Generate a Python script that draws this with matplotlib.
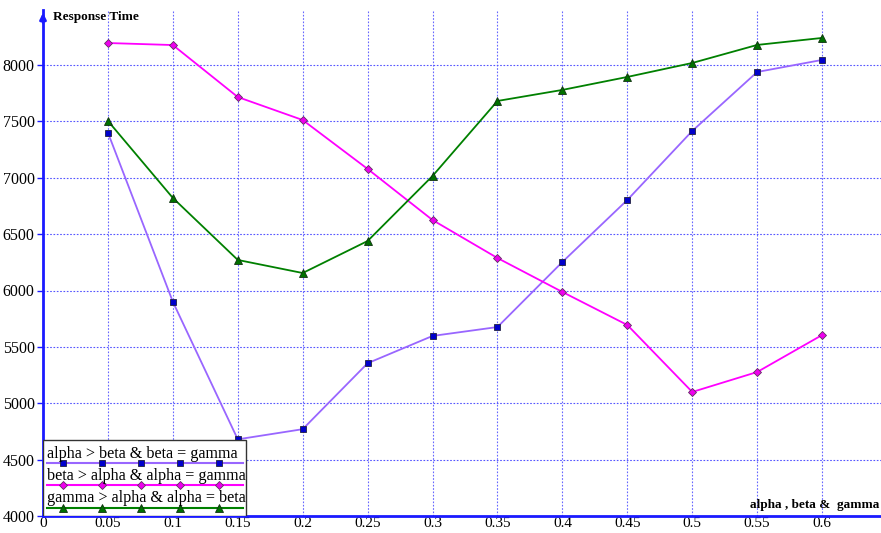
import matplotlib.pyplot as plt
from matplotlib import rcParams
from matplotlib.lines import Line2D

rcParams["font.family"] = "Liberation Serif"
rcParams["font.size"] = 11

x_vals = [0.05, 0.1, 0.15, 0.2, 0.25, 0.3, 0.35, 0.4, 0.45, 0.5, 0.55, 0.6]
beta_gamma = [7400, 5900, 4680, 4770, 5355, 5597, 5676, 6253, 6803, 7415, 7938, 8045]
alpha_gamma = [8195, 8177, 7716, 7512, 7078, 6625, 6288, 5987, 5694, 5100, 5277, 5605]
alpha_beta = [7504, 6821, 6271, 6155, 6439, 7016, 7681, 7779, 7894, 8018, 8178, 8240]

labels = [
    "alpha > beta & beta = gamma",
    "beta > alpha & alpha = gamma",
    "gamma > alpha & alpha = beta",
]
x_ticks = [0, 0.05, 0.1, 0.15, 0.2, 0.25, 0.3, 0.35, 0.4, 0.45, 0.5, 0.55, 0.6]
y_ticks = [4000, 4500, 5000, 5500, 6000, 6500, 7000, 7500, 8000]

styles = [
    dict(color="#9966ff", marker="s", mfc="#0000cc", mec="#202040", ms=5),
    dict(color="#ff00ff", marker="D", mfc="#ee00ee", mec="#603060", ms=4.5),
    dict(color="#008000", marker="^", mfc="#007000", mec="#103010", ms=6),
]

fig = plt.figure(figsize=(8.81, 5.33), dpi=100)
ax = fig.add_axes([43 / 881, 17 / 533, 838 / 881, 506 / 533])
ax.set_xlim(0, 838 / 1298.5)
ax.set_ylim(4000, 4000 + 506 / 0.11275)

for xv in x_ticks[1:]:
    ax.axvline(xv, color="#6666ff", lw=0.8, ls=(0, (1.5, 1.5)), zorder=0)
for yv in y_ticks[1:]:
    ax.axhline(yv, color="#5555ff", lw=0.8, ls=(0, (1.5, 1.5)), zorder=0)

for ys, st in zip([beta_gamma, alpha_gamma, alpha_beta], styles):
    ax.plot(x_vals, ys, lw=1.3, mew=0.6, **st)

for side in ["top", "right"]:
    ax.spines[side].set_visible(False)
for side in ["left", "bottom"]:
    ax.spines[side].set_color("#1a1aff")
    ax.spines[side].set_linewidth(2)

ax.set_xticks(x_ticks)
ax.set_xticklabels(["0" if t == 0 else f"{t:g}" for t in x_ticks])
ax.set_yticks(y_ticks)
ax.tick_params(axis="both", colors="#1a1aff", labelcolor="black", labelsize=11)
ax.tick_params(axis="x", length=0, pad=0.5)
ax.tick_params(axis="y", length=4, width=1, pad=2, labelsize=11.5)

# arrow on top of the vertical axis
ax.annotate("", xy=(0, 1.0), xytext=(0, 0.97), xycoords="axes fraction",
            arrowprops=dict(arrowstyle="-|>", color="#1a1aff", lw=2,
                            mutation_scale=9))

ax.text(10 / 838, 1 - 7 / 506, "Response Time", transform=ax.transAxes,
        fontsize=9.5, fontweight="bold", va="center", ha="left")
ax.text(836 / 838, 11 / 506, "alpha , beta &  gamma", transform=ax.transAxes,
        fontsize=9.5, fontweight="bold", va="center", ha="right")

# hand-built legend box in the lower left corner
lx0, lx1 = 0 / 838, 203 / 838
ly0, ly1 = 0 / 506, 76 / 506
box = plt.Rectangle((lx0, ly0), lx1 - lx0, ly1 - ly0, transform=ax.transAxes,
                    facecolor="white", edgecolor="#333333", lw=1, zorder=5)
ax.add_patch(box)
line_y = [53 / 506, 31 / 506, 8 / 506]
mark_x = [(20 + 39 * k) / 838 for k in range(5)]
for lab, st, ly in zip(labels, styles, line_y):
    ax.add_line(Line2D([4 / 838, 200 / 838], [ly, ly], transform=ax.transAxes,
                       color=st["color"], lw=1.5, zorder=6))
    ax.add_line(Line2D(mark_x, [ly] * 5, transform=ax.transAxes, ls="none",
                       marker=st["marker"], mfc=st["mfc"], mec=st["mec"],
                       ms=st["ms"], mew=0.6, zorder=7))
    ax.text(4 / 838, ly + 1.5 / 506, lab, transform=ax.transAxes, fontsize=11.6,
            va="bottom", ha="left", zorder=7)

fig.savefig("out.png", dpi=100)
